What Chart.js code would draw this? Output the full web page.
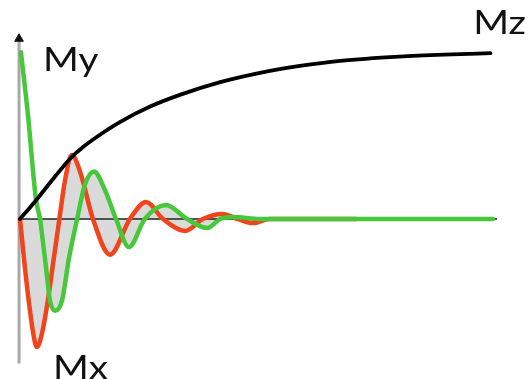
<!DOCTYPE html>
<html>
<head>
<meta charset="utf-8">
<script src="https://cdn.jsdelivr.net/npm/chart.js@4/dist/chart.umd.min.js"></script>
<style>
  body { margin: 0; background: #fff; }
  #wrap { width: 528px; height: 379px; }
</style>
</head>
<body>
<div id="wrap"><canvas id="relax-chart"></canvas></div>
<script>
// time (arbitrary units) and magnetisation (Mz equilibrium ~ 1)
const mzT = [0, 2, 4.2, 7.3, 10.8, 13, 15.6, 20.8, 27, 33.3, 41.7, 50, 58.3, 66.7, 79, 90, 98];
const mzV = [0, 0.065, 0.14, 0.25, 0.365, 0.42, 0.475, 0.57, 0.66, 0.73, 0.805, 0.86, 0.9, 0.93, 0.955, 0.968, 0.975];

const mxT = [0, 1.0, 1.9, 2.8, 3.5, 4.6, 5.8, 7.0, 8.2, 9.4, 10.8, 12.5, 15.2, 18.75, 22.9, 26.25, 29.8, 34.4, 38.1, 42.1, 45.4, 48.5, 52, 70];
const mxV = [0, -0.28, -0.5, -0.68, -0.753, -0.67, -0.48, -0.24, 0, 0.23, 0.376, 0.28, 0, -0.21, 0, 0.10, 0, -0.07, 0, 0.03, 0, -0.024, 0, 0];

// My is kept in two pieces: the first spike is not shaded
const myT1 = [0.2, 1.7, 3.3, 4.2];
const myV1 = [0.98, 0.6, 0.12, 0];
const myT2 = [4.2, 5.4, 6.25, 7.3, 8.75, 10.2, 11.9, 13.5, 15.4, 17.7, 20, 22.7, 26, 30.4, 34.8, 39, 41.7, 44.4, 50, 98.5];
const myV2 = [0, -0.28, -0.48, -0.54, -0.48, -0.23, 0, 0.2, 0.28, 0.17, 0, -0.165, 0, 0.082, 0, -0.053, 0, 0.012, 0, 0];

const labels = ['My', 'Mz', 'Mx'];
const labelT = [4.8, 94.4, 6.9];
const labelV = [0.87, 1.09, -0.94];

function pts(xs, ys) {
    return xs.map((x, i) => ({ x: x, y: ys[i] }));
}

const red = '#f0441c';
const green = '#46c83a';
const shade = '#dadada';

const curve = {
    pointRadius: 0,
    cubicInterpolationMode: 'monotone',
    borderCapStyle: 'round',
    borderJoinStyle: 'round'
};

// text labels, slightly widened like the original lettering
const labelPlugin = {
    id: 'labels',
    afterDraw(chart) {
        const ctx = chart.ctx;
        const xs = chart.scales.x;
        const ys = chart.scales.y;
        ctx.save();
        ctx.fillStyle = '#111';
        ctx.font = '33px Lato';
        ctx.textBaseline = 'alphabetic';
        labels.forEach((txt, i) => {
            ctx.save();
            ctx.translate(xs.getPixelForValue(labelT[i]), ys.getPixelForValue(labelV[i]));
            ctx.scale(1.17, 1);
            ctx.fillText(txt, 0, 0);
            ctx.restore();
        });
        ctx.restore();
    }
};

new Chart(document.getElementById('relax-chart').getContext('2d'), {
    type: 'line',
    data: {
        datasets: [
            Object.assign({}, curve, {
                label: 'Mz',
                data: pts(mzT, mzV),
                borderColor: '#000',
                borderWidth: 3.8,
                fill: false,
                order: 0
            }),
            Object.assign({}, curve, {
                label: 'My',
                data: pts(myT1, myV1),
                borderColor: green,
                borderWidth: 4.5,
                fill: false,
                order: 1
            }),
            Object.assign({}, curve, {
                label: 'My',
                data: pts(myT2, myV2),
                borderColor: green,
                borderWidth: 4.5,
                backgroundColor: shade,
                fill: 'origin',
                order: 1
            }),
            Object.assign({}, curve, {
                label: 'Mx',
                data: pts(mxT, mxV),
                borderColor: red,
                borderWidth: 4.5,
                backgroundColor: shade,
                fill: 'origin',
                order: 2
            }),
            {
                label: 'axis-h',
                data: pts([-0.2, 99.4], [0, 0]),
                borderColor: '#222',
                borderWidth: 1.4,
                pointRadius: 0,
                fill: false,
                order: 3
            },
            {
                label: 'axis-v',
                data: pts([-0.2, -0.2], [-0.85, 1.06]),
                borderColor: '#a8a8a8',
                borderWidth: 3,
                pointRadius: [0, 5],
                pointStyle: 'triangle',
                pointBackgroundColor: '#111',
                pointBorderColor: '#111',
                pointBorderWidth: 1,
                fill: false,
                order: 4
            }
        ]
    },
    options: {
        responsive: true,
        maintainAspectRatio: false,
        animation: false,
        layout: { padding: 0, autoPadding: false },
        scales: {
            x: { type: 'linear', min: -4.1667, max: 105.83, display: false },
            y: { type: 'linear', min: -0.941, max: 1.288, display: false }
        },
        plugins: {
            legend: { display: false },
            tooltip: { enabled: false },
            filler: { drawTime: 'beforeDatasetsDraw' }
        }
    },
    plugins: [labelPlugin]
});
</script>
</body>
</html>
